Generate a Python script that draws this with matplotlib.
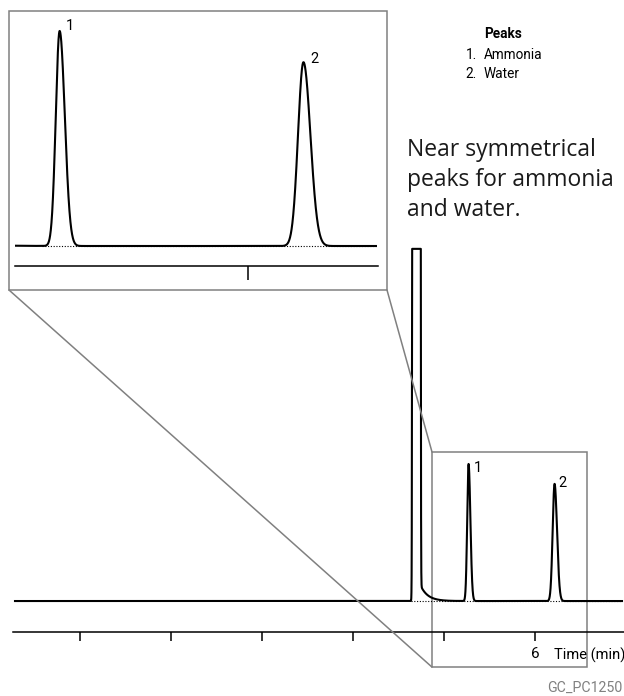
import numpy as np
import matplotlib
matplotlib.use('Agg')
import matplotlib.pyplot as plt
from matplotlib.patches import Rectangle, ConnectionPatch

# peaks (time in min, height in arbitrary units)
peak_labels = ['1', '2']
peak_names = ['Ammonia', 'Water']
peak_times = [5.27, 6.215]
peak_heights = [100.0, 85.5]
peak_sigma_left = [0.015, 0.021]
peak_sigma_right = [0.020, 0.027]

# solvent peak, off scale (detector clipped)
solvent_time = 4.697
solvent_sigma = 0.0095
solvent_height = 1e8
solvent_tail = 20.0
solvent_tau = 0.08
saturation = 257.0

main_ticks = [1, 2, 3, 4, 5, 6]
main_tick_labels = ['', '', '', '', '', '6']
inset_ticks = [6]

NARROW = ['Roboto', 'DejaVu Sans']
GRAY = '#808080'
W, H = 624, 696


def fx(px):
    return px / W


def fy(py):
    return 1 - py / H


def trace(t):
    y = np.zeros_like(t)
    for tr, h, sl, sr in zip(peak_times, peak_heights, peak_sigma_left, peak_sigma_right):
        s = np.where(t < tr, sl, sr)
        y += h * np.exp(-0.5 * ((t - tr) / s) ** 2)
    y += solvent_height * np.exp(-0.5 * ((t - solvent_time) / solvent_sigma) ** 2)
    y += np.where(t > solvent_time,
                  solvent_tail * np.exp(-np.clip(t - solvent_time, 0, None) / solvent_tau), 0)
    return np.minimum(y, saturation)


fig = plt.figure(figsize=(6.24, 6.96), dpi=100)

# main chromatogram
ax = fig.add_axes([fx(13), fy(632), fx(624) - fx(13), fy(232) - fy(632)])
ax.patch.set_alpha(0)
t = np.linspace(0.286, 6.956, 30000)
ax.plot(t, trace(t), color='black', lw=1.5)
ax.hlines(0, 4.64, 6.956, colors='black', linestyles=(0, (1, 1.5)), lw=0.8)
ax.set_xlim(0.264, 6.978)
ax.set_ylim(-22.6, 269.3)
for s in ['top', 'left', 'right']:
    ax.spines[s].set_visible(False)
ax.spines['bottom'].set_linewidth(1.1)
ax.set_yticks([])
ax.set_xticks(main_ticks)
ax.set_xticklabels(main_tick_labels, family=NARROW, size=11)
ax.tick_params(axis='x', direction='out', length=6.5, width=1.1, pad=4)

ax.annotate(peak_labels[0], (peak_times[0], peak_heights[0]), xytext=(6.5, -3),
            textcoords='offset points', ha='center', va='center', family=NARROW, size=10.5)
ax.annotate(peak_labels[1], (peak_times[1], peak_heights[1]), xytext=(5.8, 0.7),
            textcoords='offset points', ha='center', va='center', family=NARROW, size=10.5)

# zoom box on main axis
box_t = (4.868, 6.571)
box_y = (-48.2, 108.8)
ax.add_patch(Rectangle((box_t[0], box_y[0]), box_t[1] - box_t[0], box_y[1] - box_y[0],
                       fill=False, ec=GRAY, lw=1.1, clip_on=False))

# inset
axi = fig.add_axes([fx(15), fy(266), fx(378) - fx(15), fy(11) - fy(266)])
axi.patch.set_alpha(0)
ti = np.linspace(5.097, 6.496, 8000)
axi.plot(ti, trace(ti), color='black', lw=1.5)
axi.hlines(0, 5.2, 6.496, colors='black', linestyles=(0, (1, 1.5)), lw=0.8)
axi.set_xlim(5.097, 6.504)
axi.set_ylim(-9.3, 109.3)
for s in ['top', 'left', 'right']:
    axi.spines[s].set_visible(False)
axi.spines['bottom'].set_linewidth(1.1)
axi.set_yticks([])
axi.set_xticks(inset_ticks)
axi.set_xticklabels([])
axi.tick_params(axis='x', direction='out', length=10, width=1.1)

axi.annotate(peak_labels[0], (peak_times[0], peak_heights[0]), xytext=(7.5, 3.3),
             textcoords='offset points', ha='center', va='center', family=NARROW, size=10.5)
axi.annotate(peak_labels[1], (peak_times[1], peak_heights[1]), xytext=(8, 2.5),
             textcoords='offset points', ha='center', va='center', family=NARROW, size=10.5)

frame = Rectangle((fx(9), fy(290)), fx(387) - fx(9), fy(11) - fy(290),
                  transform=fig.transFigure, fill=False, ec=GRAY, lw=1.1)
fig.add_artist(frame)

con1 = ConnectionPatch(xyA=(fx(9), fy(290)), coordsA=fig.transFigure,
                       xyB=(box_t[0], box_y[0]), coordsB=ax.transData, color=GRAY, lw=1.1)
con2 = ConnectionPatch(xyA=(fx(387), fy(290)), coordsA=fig.transFigure,
                       xyB=(box_t[0], box_y[1]), coordsB=ax.transData, color=GRAY, lw=1.1)
fig.add_artist(con1)
fig.add_artist(con2)

# legend text
fig.text(fx(484), fy(38), 'Peaks', weight='bold', size=9.8, family=NARROW, va='baseline')
for i, name in enumerate(peak_names):
    yb = fy(59 + 19 * i)
    fig.text(fx(477), yb, peak_labels[i] + '.', ha='right', va='baseline', size=9.8, family=NARROW)
    fig.text(fx(484), yb, name, ha='left', va='baseline', size=9.8, family=NARROW)

note = ['Near symmetrical', 'peaks for ammonia', 'and water.']
for i, line in enumerate(note):
    fig.text(fx(407), fy(156 + 30 * i), line, family='Open Sans', size=16.5,
             va='baseline', color='#1a1a1a')

fig.text(fx(554), fy(660), 'Time (min)', family=NARROW, size=10.5, va='baseline')
fig.text(fx(622), fy(692), 'GC_PC1250', family=NARROW, size=10.2, va='baseline',
         ha='right', color=GRAY)

fig.savefig('out.png', dpi=100)
